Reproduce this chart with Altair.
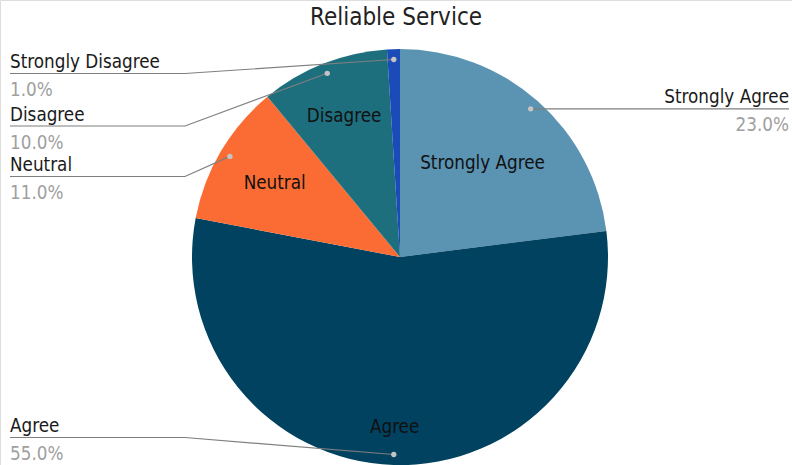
import altair as alt
import numpy as np
import pandas as pd

# Survey responses for "Reliable Service"
categories = ["Strongly Agree", "Agree", "Neutral", "Disagree", "Strongly Disagree"]
shares = [23.0, 55.0, 11.0, 10.0, 1.0]
colors = ["#5b93b2", "#00425f", "#fa6c33", "#1d6f7e", "#1a4bb8"]

# Layout (pixels)
W, H = 792, 465
CX, CY, R = 400, 257, 208
FONT = "DejaVu Sans Condensed"
FS = 18.7
DOT_R = 0.95 * R
# radial position of the in-slice labels, as a fraction of the radius
inner_r = {"Strongly Agree": 0.60, "Agree": 0.82, "Neutral": 0.70, "Disagree": 0.73}
# callout side and horizontal-rule height for each label
side = {"Strongly Agree": "right", "Agree": "left", "Neutral": "left",
        "Disagree": "left", "Strongly Disagree": "left"}
slot_y = {"Agree": 437.5, "Neutral": 176.5, "Disagree": 126, "Strongly Disagree": 73.5}
LEFT_X, ELBOW_X, RIGHT_X = 10, 185, 789

frac = np.array(shares) / sum(shares)
start = np.concatenate([[0.0], np.cumsum(frac)[:-1]])
mid_angle = (start + frac / 2) * 2 * np.pi


def polar(r, a):
    return CX + r * np.sin(a), CY - r * np.cos(a)


slices = pd.DataFrame({"category": categories, "share": shares, "idx": range(len(categories))})

# in-slice labels
inner_rows = []
for c, a in zip(categories, mid_angle):
    if c in inner_r:
        x, y = polar(inner_r[c] * R, a)
        inner_rows.append({"category": c, "x": x, "y": y})
inner = pd.DataFrame(inner_rows)

# leader lines, dots and outside labels
line_rows, dot_rows, label_rows = [], [], []
for c, s, a in zip(categories, shares, mid_angle):
    dx, dy = polar(DOT_R, a)
    dot_rows.append({"category": c, "x": dx, "y": dy})
    if side[c] == "right":
        ly = dy
        pts = [(dx, ly), (RIGHT_X, ly)]
        tx, align = RIGHT_X, "right"
    else:
        ly = slot_y[c]
        pts = [(dx, dy), (ELBOW_X, ly), (LEFT_X, ly)]
        tx, align = LEFT_X, "left"
    for k, (px, py) in enumerate(pts):
        line_rows.append({"category": c, "k": k, "x": px, "y": py})
    label_rows.append({"category": c, "pct": f"{s:.1f}%", "x": tx,
                       "y_name": ly - 5.5, "y_pct": ly + 22.5, "align": align})
lines = pd.DataFrame(line_rows)
dots = pd.DataFrame(dot_rows)
labels = pd.DataFrame(label_rows)

xs = alt.Scale(domain=[0, W], range=[0, W])
ys = alt.Scale(domain=[0, H], range=[0, H])
X = lambda f: alt.X(f"{f}:Q", scale=xs, axis=None)
Y = lambda f: alt.Y(f"{f}:Q", scale=ys, axis=None)

pie = alt.Chart(slices).mark_arc(outerRadius=R).encode(
    theta=alt.Theta("share:Q", stack=True),
    order=alt.Order("idx:Q"),
    color=alt.Color("category:N", scale=alt.Scale(domain=categories, range=colors), legend=None),
    x=alt.value(CX),
    y=alt.value(CY),
)

inner_text = alt.Chart(inner).mark_text(
    font=FONT, fontSize=FS, color="#111111", align="center", baseline="middle"
).encode(x=X("x"), y=Y("y"), text="category:N")

leaders = alt.Chart(lines).mark_line(color="#7f7f7f", strokeWidth=1.2).encode(
    x=X("x"), y=Y("y"), detail="category:N", order="k:Q"
)

dot_marks = alt.Chart(dots).mark_point(filled=True, size=28, color="#c4c4c4", opacity=1).encode(
    x=X("x"), y=Y("y")
)

left_lab = labels[labels["align"] == "left"]
right_lab = labels[labels["align"] == "right"]


def outside(df, align):
    names = alt.Chart(df).mark_text(
        font=FONT, fontSize=FS, color="#1a1a1a", align=align, baseline="alphabetic"
    ).encode(x=X("x"), y=Y("y_name"), text="category:N")
    pcts = alt.Chart(df).mark_text(
        font=FONT, fontSize=FS, color="#a0a0a0", align=align, baseline="alphabetic"
    ).encode(x=X("x"), y=Y("y_pct"), text="pct:N")
    return names + pcts


chart = alt.layer(
    pie, inner_text, leaders, dot_marks, outside(left_lab, "left"), outside(right_lab, "right")
).properties(
    width=W, height=H,
    padding=0,
    autosize=alt.AutoSizeParams(type="none"),
    title=alt.TitleParams("Reliable Service", font=FONT, fontSize=24, fontWeight="normal",
                          color="#222222", anchor="middle", offset=-30, baseline="top"),
).configure_view(stroke=None).configure(background="white")

chart.save("out.html", embed_options={"renderer": "svg", "actions": False})
